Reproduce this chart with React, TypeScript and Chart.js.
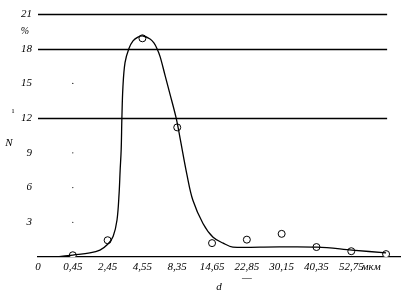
import React, { useEffect, useRef } from "react";
import { Chart, registerables } from "chart.js";

Chart.register(...registerables);

// Tick positions along the d axis and their labels
const xTickValues = [0, 1, 2, 3, 4, 5, 6, 7, 8, 9, 9.57];
const xLabels: (string | string[])[] = [
  "0",
  "0,45",
  "2,45",
  "4,55",
  "8,35",
  "14,65",
  ["22,85", "—"],
  "30,15",
  "40,35",
  "52,75",
  "мкм",
];

// Measured points (hollow circles): index -> N, %
const pointX = [1, 2, 3, 4, 5, 6, 7, 8, 9, 10];
const pointN = [0.15, 1.45, 18.9, 11.2, 1.2, 1.5, 2.0, 0.86, 0.5, 0.25];

// Fitted curve
const curveX = [0.55, 1.0, 1.49, 1.78, 2.01, 2.16, 2.27, 2.33, 2.36, 2.39, 2.41, 2.44, 2.5, 2.61, 2.73, 2.87, 3.02, 3.22, 3.33, 3.42, 3.51, 3.65, 3.79, 3.97, 4.08, 4.28, 4.45, 4.74, 5.03, 5.32, 5.6, 6.38, 8.02, 9.02, 10.0];
const curveN = [0, 0.17, 0.35, 0.6, 1.12, 1.8, 3.2, 5.5, 7.5, 9.3, 12.0, 14.7, 16.8, 18.0, 18.67, 19.0, 19.1, 18.84, 18.5, 18.0, 17.3, 15.7, 14.1, 12.0, 10.3, 7.1, 4.9, 2.9, 1.7, 1.2, 0.86, 0.86, 0.86, 0.6, 0.35];

// Y tick values and reference lines
const yTicks = [3, 6, 9, 12, 15, 18, 21];
const refLines = [12, 18, 21];

// small scan specks in the plot
const speckX = [1, 1, 1, 1];
const speckN = [15, 9, 6, 3];

const FONT = "'Liberation Serif', 'DejaVu Serif', serif";

const extras = {
  id: "extras",
  beforeDatasetsDraw(chart: any) {
    const { ctx, scales } = chart;
    const x = scales.x;
    const y = scales.y;
    ctx.save();
    ctx.strokeStyle = "#000";
    ctx.lineWidth = 1.3;
    const x0 = x.getPixelForValue(0);
    const x1 = x.getPixelForValue(10.03);
    refLines.forEach((v) => {
      const py = Math.round(y.getPixelForValue(v)) + 0.5;
      ctx.beginPath();
      ctx.moveTo(x0, py);
      ctx.lineTo(x1, py);
      ctx.stroke();
    });
    ctx.restore();
  },
  afterDraw(chart: any) {
    const { ctx } = chart;
    ctx.save();
    ctx.fillStyle = "#000";
    ctx.textAlign = "center";
    ctx.textBaseline = "middle";
    ctx.font = `italic 10px ${FONT}`;
    ctx.fillText("%", 25, 31);
    ctx.font = `italic 11px ${FONT}`;
    ctx.fillText("N", 9, 143);
    ctx.font = `9px ${FONT}`;
    ctx.fillText("¹", 13, 113);
    ctx.restore();
  },
};

export default function App() {
  const ref = useRef<HTMLCanvasElement>(null);
  useEffect(() => {
    document.body.style.margin = "0";
    const chart = new Chart(ref.current!, {
      type: "scatter",
      data: {
        datasets: [
          {
            type: "line",
            data: curveX.map((v, i) => ({ x: v, y: curveN[i] })),
            borderColor: "#000",
            borderWidth: 1.3,
            pointRadius: 0,
            tension: 0.35,
            fill: false,
          } as any,
          {
            data: pointX.map((v, i) => ({ x: v, y: pointN[i] })),
            pointRadius: 3.5,
            pointBackgroundColor: "#fff",
            pointBorderColor: "#000",
            pointBorderWidth: 1,
          },
          {
            data: speckX.map((v, i) => ({ x: v, y: speckN[i] })),
            pointRadius: 0.6,
            pointBackgroundColor: "#000",
            pointBorderColor: "#000",
            pointBorderWidth: 0,
          },
        ],
      },
      options: {
        animation: false,
        responsive: false,
        layout: { padding: { top: 14, right: 5, left: 0, bottom: 0 } },
        plugins: { legend: { display: false }, tooltip: { enabled: false } },
        scales: {
          x: {
            type: "linear",
            min: 0,
            max: 10.4,
            afterBuildTicks: (s: any) => {
              s.ticks = xTickValues.map((v) => ({ value: v }));
            },
            afterFit: (s: any) => {
              s.height = 39;
            },
            grid: { display: false, drawTicks: false },
            border: { display: true, color: "#000", width: 1.3 },
            ticks: {
              color: "#000",
              padding: 5,
              maxRotation: 0,
              autoSkip: false,
              font: { family: FONT, size: 11, style: "italic", lineHeight: 1.0 },
              callback: (v: any) => xLabels[xTickValues.indexOf(v)] as any,
            },
            title: {
              display: true,
              text: "d",
              color: "#000",
              padding: { top: 0, bottom: 2 },
              font: { family: FONT, size: 11, style: "italic" },
            },
          },
          y: {
            min: 0,
            max: 21,
            afterBuildTicks: (s: any) => {
              s.ticks = yTicks.map((v) => ({ value: v }));
            },
            afterFit: (s: any) => {
              s.width = 38;
            },
            grid: { display: false, drawTicks: false },
            border: { display: false },
            ticks: {
              color: "#000",
              padding: 6,
              font: { family: FONT, size: 11, style: "italic" },
              callback: (v: any) => String(v),
            },
          },
        },
      },
      plugins: [extras],
    } as any);
    return () => chart.destroy();
  }, []);
  return <canvas ref={ref} width={405} height={296} />;
}
